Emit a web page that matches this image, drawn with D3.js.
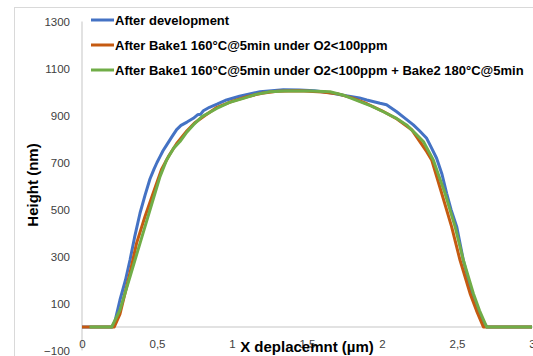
<!DOCTYPE html>
<html>
<head>
<meta charset="utf-8">
<script src="https://cdn.jsdelivr.net/npm/d3@7"></script>
<style>
  body { margin: 0; background: #fff; }
  svg { display: block; font-family: "Liberation Sans", Arial, sans-serif; }
</style>
</head>
<body>
<div id="chart"></div>
<script>
// profile data (x in µm, height in nm)
const blueX = [0, 0.1, 0.2, 0.22, 0.253, 0.29, 0.32, 0.35, 0.387, 0.42, 0.453, 0.48, 0.5, 0.52, 0.54, 0.564, 0.6, 0.631, 0.66, 0.7, 0.742, 0.77, 0.79, 0.809, 0.85, 0.9, 0.964, 1.05, 1.187, 1.342, 1.45, 1.55, 1.653, 1.75, 1.85, 1.898, 1.987, 2.03, 2.098, 2.15, 2.209, 2.25, 2.298, 2.33, 2.364, 2.4, 2.431, 2.46, 2.498, 2.542, 2.58, 2.62, 2.66, 2.70, 2.8, 3.0];
const blueY = [0, 0, 0, 25, 115, 200, 285, 380, 485, 560, 630, 672, 700, 725, 750, 774, 810, 840, 858, 872, 888, 903, 905, 920, 935, 948, 966, 982, 1001, 1010, 1008, 1005, 997, 985, 975, 966, 952, 946, 916, 890, 860, 835, 803, 762, 718, 650, 569, 500, 427, 285, 190, 100, 35, 0, 0, 0];

const orangeX = [0, 0.05, 0.215, 0.253, 0.32, 0.364, 0.42, 0.48, 0.53, 0.58, 0.63, 0.7, 0.75, 0.82, 0.9, 1.0, 1.1, 1.2, 1.3, 1.45, 1.6, 1.7, 1.8, 1.9, 2.0, 2.1, 2.2, 2.298, 2.331, 2.398, 2.464, 2.52, 2.587, 2.63, 2.676, 2.8, 3.0];
const orangeY = [0, 0, 0, 55, 230, 357, 470, 580, 670, 730, 780, 835, 868, 900, 935, 960, 980, 995, 1003, 1005, 1000, 993, 975, 950, 920, 885, 838, 746, 711, 569, 427, 285, 143, 70, 0, 0, 0];

const greenX = [0.05, 0.198, 0.253, 0.32, 0.387, 0.453, 0.52, 0.564, 0.61, 0.653, 0.7, 0.742, 0.8, 0.898, 0.98, 1.076, 1.16, 1.253, 1.35, 1.453, 1.52, 1.653, 1.75, 1.853, 1.93, 2.009, 2.09, 2.164, 2.22, 2.276, 2.342, 2.42, 2.487, 2.542, 2.609, 2.65, 2.698, 2.8, 3.0];
const greenY = [0, 0, 72, 214, 357, 498, 640, 711, 760, 789, 830, 860, 895, 930, 955, 973, 990, 1001, 1004, 1004, 1004, 1001, 985, 959, 940, 916, 890, 860, 825, 789, 711, 569, 427, 285, 143, 70, 0, 0, 0];

const seriesNames = ["After development", "After Bake1 160°C@5min under O2<100ppm", "After Bake1 160°C@5min under O2<100ppm + Bake2 180°C@5min"];
const seriesColors = ["#4472C4", "#C55A11", "#70AD47"];
const yTicks = [-100, 100, 300, 500, 700, 900, 1100, 1300];
const xTicks = [0, 0.5, 1, 1.5, 2, 2.5, 3];

const W = 533, H = 356;
const svg = d3.select("#chart").append("svg").attr("width", W).attr("height", H);

// chart frame
svg.append("rect").attr("x", 14.5).attr("y", 7.5).attr("width", 600).attr("height", 400)
    .attr("fill", "none").attr("stroke", "#d9d9d9");

const x = d3.scaleLinear().domain([0, 3]).range([82, 532]);
const y = d3.scaleLinear().domain([-100, 1300]).range([350.5, 21.5]);

// vertical axis line and zero line
svg.append("line").attr("x1", x(0)).attr("x2", x(0)).attr("y1", y(1300)).attr("y2", y(-100))
    .attr("stroke", "#d9d9d9").attr("stroke-width", 1.5);
svg.append("line").attr("x1", x(0)).attr("x2", W).attr("y1", y(0)).attr("y2", y(0))
    .attr("stroke", "#d9d9d9").attr("stroke-width", 1.5);

// y tick labels
const yAxis = svg.append("g").attr("transform", "translate(82,0)")
    .call(d3.axisLeft(y).tickValues(yTicks).tickSize(0).tickPadding(12).tickFormat(d3.format("d")));
yAxis.select(".domain").remove();
yAxis.selectAll("text").attr("font-size", 11.5).attr("fill", "#404040")
    .attr("font-family", "Liberation Sans, Arial, sans-serif");

// x tick labels
const xAxis = svg.append("g").attr("transform", `translate(0,${y(0)})`)
    .call(d3.axisBottom(x).tickValues(xTicks).tickSize(0).tickPadding(13)
        .tickFormat(d => String(d).replace(".", ",")));
xAxis.select(".domain").remove();
xAxis.selectAll("text").attr("font-size", 11.5).attr("fill", "#404040")
    .attr("font-family", "Liberation Sans, Arial, sans-serif");

// curves
const line = d3.line().x(d => x(d[0])).y(d => y(d[1]));
const allSeries = [
    d3.zip(blueX, blueY),
    d3.zip(orangeX, orangeY),
    d3.zip(greenX, greenY)
];
allSeries.forEach(function (pts, i) {
    svg.append("path").datum(pts)
        .attr("d", line)
        .attr("fill", "none")
        .attr("stroke", seriesColors[i])
        .attr("stroke-width", 3)
        .attr("stroke-linejoin", "round");
});

// legend
const legend = svg.append("g");
seriesNames.forEach(function (name, i) {
    const ly = 20 + 25 * i;
    legend.append("line").attr("x1", 91).attr("x2", 114).attr("y1", ly).attr("y2", ly)
        .attr("stroke", seriesColors[i]).attr("stroke-width", 3);
    legend.append("text").attr("x", 115).attr("y", ly + 5)
        .attr("font-size", 13).attr("font-weight", "bold").attr("fill", "#000")
        .text(name);
});
// shrink legend font so the longest entry ends where it does in the picture
const longest = legend.selectAll("text").nodes()[2].getComputedTextLength();
if (longest > 412) {
    legend.selectAll("text").attr("font-size", 13 * 412 / longest);
}

// axis titles
svg.append("text").attr("x", 307).attr("y", 352).attr("text-anchor", "middle")
    .attr("font-size", 15).attr("font-weight", "bold").text("X deplacemnt (µm)");
svg.append("text").attr("transform", "translate(38,185) rotate(-90)").attr("text-anchor", "middle")
    .attr("font-size", 15).attr("font-weight", "bold").text("Height (nm)");
</script>
</body>
</html>
